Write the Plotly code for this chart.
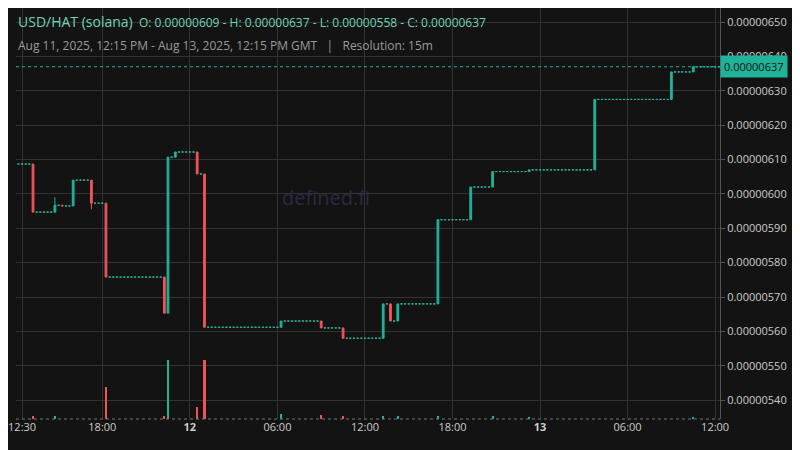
import plotly.graph_objects as go
import pandas as pd

# 15 minute bars, Aug 11 12:15 -> Aug 13 12:15 GMT
start = pd.Timestamp('2025-08-11 12:15')
n_bars = 193
first_close = 6.087

# bar index where price moved, and the new close (x1e-6)
change_idx = [4, 10, 12, 15, 20, 24, 40, 41, 43, 49, 51, 72, 83, 89, 100, 102, 104, 115, 124, 130, 140, 158, 179, 185]
change_close = [5.947, 5.967, 5.965, 6.040, 5.973, 5.758, 5.653, 6.107, 6.122, 6.058, 5.612, 5.630, 5.610, 5.580,
                5.680, 5.630, 5.680, 5.925, 6.020, 6.065, 6.070, 6.275, 6.355, 6.370]
wick_idx = [10, 20]
wick_high = [5.99, 5.973]
wick_low = [5.967, 5.955]

vol_idx = [4, 10, 24, 40, 41, 49, 51, 72, 83, 89, 100, 104, 115, 130, 140, 185]
vol_val = [0.05, 0.05, 0.55, 0.05, 1.0, 0.2, 1.0, 0.08, 0.06, 0.05, 0.05, 0.05, 0.05, 0.05, 0.04, 0.04]

last_price = 6.37e-6

times = [start + pd.Timedelta(minutes=15 * i) for i in range(n_bars)]
moves = dict(zip(change_idx, change_close))
opens, closes = [], []
prev = first_close
for i in range(n_bars):
	c = moves.get(i, prev)
	opens.append(prev * 1e-6)
	closes.append(c * 1e-6)
	prev = c
highs = [max(o, c) for o, c in zip(opens, closes)]
lows = [min(o, c) for o, c in zip(opens, closes)]
for i, h, l in zip(wick_idx, wick_high, wick_low):
	highs[i] = max(highs[i], h * 1e-6)
	lows[i] = min(lows[i], l * 1e-6)

green = '#1fb39a'
red = '#f0545a'

moving = [i for i in range(n_bars) if i in moves or i in wick_idx]
flat = [i for i in range(n_bars) if i not in moving]


def pick(arr, idx):
	return [arr[i] for i in idx]


fig = go.Figure()
vol_colors = [red if closes[i] < opens[i] else green for i in vol_idx]
fig.add_trace(go.Bar(x=pick(times, vol_idx), y=vol_val, marker_color=vol_colors,
                     marker_line_width=0, width=15 * 60 * 1000 * 0.6, yaxis='y2', showlegend=False))
# flat bars: drawn as thin teal dashes
fig.add_trace(go.Candlestick(x=pick(times, flat), open=pick(opens, flat), high=pick(highs, flat),
                             low=pick(lows, flat), close=pick(closes, flat),
                             increasing=dict(line=dict(color=green, width=1), fillcolor=green),
                             decreasing=dict(line=dict(color=green, width=1), fillcolor=green),
                             whiskerwidth=0, showlegend=False))
fig.add_trace(go.Candlestick(x=pick(times, moving), open=pick(opens, moving), high=pick(highs, moving),
                             low=pick(lows, moving), close=pick(closes, moving),
                             increasing=dict(line=dict(color=green, width=1), fillcolor=green),
                             decreasing=dict(line=dict(color=red, width=1), fillcolor=red),
                             whiskerwidth=0, showlegend=False))

fig.add_hline(y=last_price, line=dict(color=green, width=1, dash='dot'))

tickvals = [pd.Timestamp('2025-08-11 12:30'), pd.Timestamp('2025-08-11 18:00'), pd.Timestamp('2025-08-12 00:00'),
            pd.Timestamp('2025-08-12 06:00'), pd.Timestamp('2025-08-12 12:00'), pd.Timestamp('2025-08-12 18:00'),
            pd.Timestamp('2025-08-13 00:00'), pd.Timestamp('2025-08-13 06:00'), pd.Timestamp('2025-08-13 12:00')]
ticktext = ['12:30', '18:00', '<b>12</b>', '06:00', '12:00', '18:00', '<b>13</b>', '06:00', '12:00']

fig.update_layout(
	width=800, height=450,
	paper_bgcolor='#131313', plot_bgcolor='#131313',
	margin=dict(l=8, r=88, t=0, b=39),
	font=dict(family='Open Sans', color='#cccccc', size=11),
	xaxis=dict(type='date', range=[start - pd.Timedelta(minutes=10), times[-1] + pd.Timedelta(minutes=5)],
	           rangeslider=dict(visible=False), tickvals=tickvals, ticktext=ticktext, automargin=False,
	           gridcolor='#333333', showline=False, zeroline=False, ticks=''),
	yaxis=dict(side='right', range=[5.345e-6, 6.541e-6], dtick=0.1e-6, tickformat='.8f', automargin=False,
	           gridcolor='#333333', zeroline=False, ticks='outside', ticklen=4, tickcolor='#555555',
	           showline=True, linecolor='#555555'),
	yaxis2=dict(overlaying='y', range=[0, 7], visible=False),
	bargap=0,
)
fig.add_shape(type='line', xref='paper', yref='paper', x0=0, x1=1, y0=0, y1=0,
              line=dict(color='#777777', width=1, dash='dot'))

fig.add_annotation(xref='paper', yref='paper', x=0.0, y=0.995, xanchor='left', yanchor='top', showarrow=False,
                   text='<span style="font-size:14px">USD/HAT (solana)</span>  O: 0.00000609 - H: 0.00000637 - L: 0.00000558 - C: 0.00000637',
                   font=dict(color='#6fd3b8', size=12))
fig.add_annotation(xref='paper', yref='paper', x=0.0, y=0.935, xanchor='left', yanchor='top', showarrow=False,
                   text='Aug 11, 2025, 12:15 PM - Aug 13, 2025, 12:15 PM GMT   |   Resolution: 15m',
                   font=dict(color='#9a9a9a', size=12))
fig.add_annotation(xref='paper', yref='y', x=1.0, y=last_price, xanchor='left', showarrow=False,
                   text='0.00000637', bgcolor=green, font=dict(color='#111111', size=11), borderpad=3)
fig.add_annotation(xref='paper', yref='paper', x=0.44, y=0.54, showarrow=False,
                   text='defined.fi', font=dict(color='#2a2a40', size=20))

fig.write_html('out.html')
